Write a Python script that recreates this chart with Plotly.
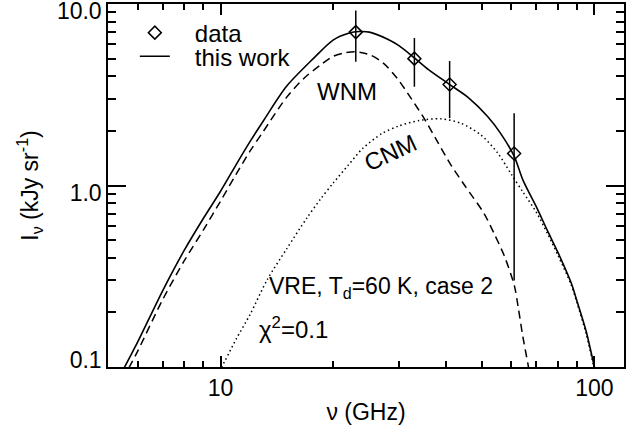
import numpy as np
import plotly.graph_objects as go

# Measured band intensities (GHz, kJy/sr) with asymmetric uncertainties
nu_obs = [23, 33, 41, 61]
I_obs = [7.0, 5.0, 3.6, 1.5]
err_plus = [2.2, 1.5, 1.25, 1.0]
err_minus = [2.2, 1.5, 1.25, 1.2]

# Total model spectrum ("this work")
nu_tot = [5.4, 5.5, 6, 7, 8, 9, 10, 11, 12, 13, 15, 17.7, 20, 22, 23.5, 25, 28, 30,
          33, 36, 41, 46, 51.8, 56, 61, 64.4, 70, 75, 80, 86.7, 90, 95, 100, 103]
I_tot = [0.088, 0.097, 0.137, 0.263, 0.44, 0.66, 0.93, 1.3, 1.75, 2.26, 3.51, 5.0, 6.33,
         6.9, 7.05, 7.0, 6.4, 5.9, 5.05, 4.35, 3.6, 3.05, 2.4, 1.95, 1.45, 1.07, 0.76,
         0.56, 0.425, 0.29, 0.228, 0.158, 0.1, 0.075]

# Warm neutral medium component
nu_wnm = [5.5, 5.6, 6, 7, 8, 9, 10, 11, 12, 13, 15, 16.7, 18.5, 20, 21.5, 23, 25.2, 27.3,
          29.7, 32.3, 35, 38, 41.3, 45, 50.7, 54, 57.4, 61.1, 62.5, 64.4, 66.4, 67.5]
I_wnm = [0.085, 0.093, 0.122, 0.235, 0.385, 0.57, 0.82, 1.15, 1.55, 1.98, 3.05, 3.89,
         4.61, 5.15, 5.38, 5.46, 5.23, 4.71, 3.89, 3.03, 2.35, 1.75, 1.30, 1.0, 0.70,
         0.54, 0.41, 0.28, 0.215, 0.146, 0.104, 0.085]

# Cold neutral medium component
nu_cnm = [9.8, 10, 11, 12, 13.3, 15, 17, 18.5, 20, 22, 24, 27, 30, 34, 38.8, 44, 49.7,
          55, 60, 64.4, 70, 75, 80, 86.7, 90, 95, 100, 103]
I_cnm = [0.09, 0.097, 0.142, 0.195, 0.30, 0.445, 0.66, 0.84, 1.03, 1.3, 1.6, 1.93, 2.13,
         2.28, 2.33, 2.2, 1.9, 1.52, 1.15, 0.92, 0.71, 0.54, 0.41, 0.283, 0.223, 0.153,
         0.097, 0.073]

# Axis ticks: long labelled majors and short unlabelled minors
x_major = [10, 100]
x_major_text = ["10", "100"]
x_minor = [6, 7, 8, 9, 20, 30, 40, 50, 60, 70, 80, 90]
y_major = [1, 10]
y_major_text = ["1.0", "10.0"]
y_minor = [0.1, 0.2, 0.3, 0.4, 0.5, 0.6, 0.7, 0.8, 0.9, 2, 3, 4, 5, 6, 7, 8, 9]
y_minor_text = ["0.1"] + [""] * 16

X_RANGE = [np.log10(5), np.log10(120)]
Y_RANGE = [-1, 1]

FONT = "Liberation Sans, Arial, Helvetica, sans-serif"
INK = "black"
NBSP = "\u00a0"

fig = go.Figure()

fig.add_trace(go.Scatter(
    x=nu_wnm, y=I_wnm, mode="lines", showlegend=False, hoverinfo="skip",
    line=dict(color=INK, width=1.5, dash="8px,5px", shape="spline", smoothing=0.8),
))
fig.add_trace(go.Scatter(
    x=nu_cnm, y=I_cnm, mode="lines", showlegend=False, hoverinfo="skip",
    line=dict(color=INK, width=1.5, dash="1.5px,3px", shape="spline", smoothing=0.8),
))
fig.add_trace(go.Scatter(
    x=nu_tot, y=I_tot, mode="lines", name=NBSP * 3 + "this work", legend="legend2",
    line=dict(color=INK, width=1.6, shape="spline", smoothing=0.8),
))
fig.add_trace(go.Scatter(
    x=nu_obs, y=I_obs, mode="markers", name=NBSP * 3 + "data", legend="legend",
    marker=dict(symbol="diamond-open", size=10, color=INK, line=dict(width=1.5, color=INK)),
    error_y=dict(type="data", array=err_plus, arrayminus=err_minus, symmetric=False,
                 color=INK, thickness=1.5, width=0),
))
# transparent copy that anchors the overlaid minor-tick axes
fig.add_trace(go.Scatter(
    x=nu_obs, y=I_obs, mode="markers", xaxis="x2", yaxis="y2", showlegend=False,
    hoverinfo="skip", marker=dict(opacity=0),
))

axis_common = dict(
    type="log", showline=True, linecolor=INK, linewidth=1.5, mirror="ticks",
    ticks="inside", tickcolor=INK, tickwidth=1.5, showgrid=False, zeroline=False,
    tickfont=dict(family=FONT, size=23, color=INK), tickmode="array",
)

fig.update_layout(
    width=644, height=434,
    margin=dict(l=108, r=20, t=2, b=67),
    paper_bgcolor="white", plot_bgcolor="white",
    font=dict(family=FONT, size=23, color=INK),
    xaxis=dict(
        **axis_common, range=X_RANGE, tickvals=x_major, ticktext=x_major_text, ticklen=11,
        title=dict(text="ν (GHz)", font=dict(family=FONT, size=23, color=INK), standoff=4),
    ),
    yaxis=dict(
        **axis_common, range=Y_RANGE, tickvals=y_major, ticktext=y_major_text, ticklen=18,
        ticklabelshift=7, ticklabeloverflow="allow", automargin=False,
        title=dict(text="I<sub>ν</sub> (kJy sr<sup>-1</sup>)",
                   font=dict(family=FONT, size=23, color=INK), standoff=12),
    ),
    xaxis2=dict(
        **axis_common, range=X_RANGE, tickvals=x_minor, ticklen=6, showticklabels=False,
        overlaying="x", anchor="y2", side="bottom",
    ),
    yaxis2=dict(
        **axis_common, range=Y_RANGE, tickvals=y_minor, ticktext=y_minor_text, ticklen=8.5,
        ticklabelshift=-7, overlaying="y", anchor="x2", side="left",
    ),
    legend=dict(x=0.052, y=0.92, xanchor="left", yanchor="middle",
                bgcolor="rgba(0,0,0,0)", font=dict(family=FONT, size=24, color=INK),
                itemwidth=30),
    legend2=dict(x=0.052, y=0.855, xanchor="left", yanchor="middle",
                 bgcolor="rgba(0,0,0,0)", font=dict(family=FONT, size=24, color=INK),
                 itemwidth=30),
)

fig.add_annotation(x=np.log10(21.8), y=np.log10(3.29), text="WNM", showarrow=False,
                   font=dict(family=FONT, size=24, color=INK),
                   xanchor="center", yanchor="middle")
fig.add_annotation(x=np.log10(28.5), y=np.log10(1.52), text="CNM", showarrow=False,
                   font=dict(family=FONT, size=24, color=INK),
                   xanchor="center", yanchor="middle", textangle=-25)
fig.add_annotation(x=np.log10(13.29), y=np.log10(0.274),
                   text="VRE, T<sub>d</sub>=60 K, case 2", showarrow=False,
                   font=dict(family=FONT, size=23, color=INK),
                   xanchor="left", yanchor="middle")
fig.add_annotation(x=np.log10(12.5), y=np.log10(0.165),
                   text="χ<sup>2</sup>=0.1", showarrow=False,
                   font=dict(family=FONT, size=24, color=INK),
                   xanchor="left", yanchor="middle")

fig.write_html("out.html")
